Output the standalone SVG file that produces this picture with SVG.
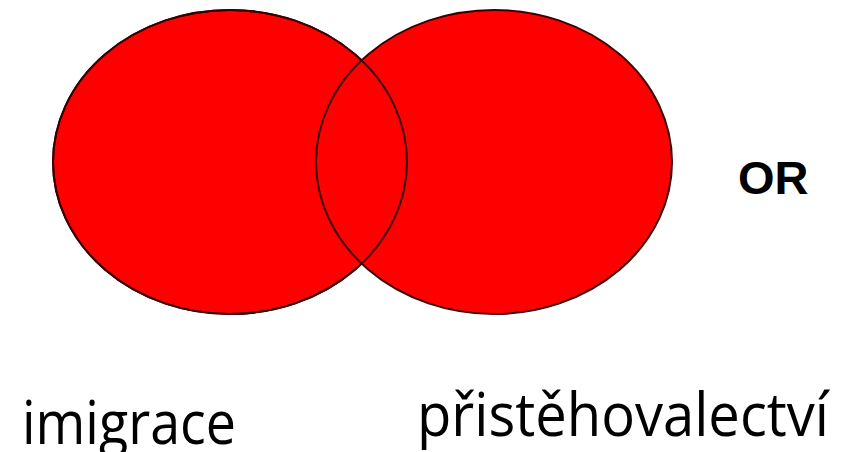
<svg xmlns="http://www.w3.org/2000/svg" width="844" height="452" viewBox="0 0 844 452">
<style>
.c{fill:#ff0000;stroke:#3a0000;stroke-width:2}
.o{fill:none;stroke:#3a0000;stroke-width:2}
.lbl{font-family:"Open Sans","Noto Sans",sans-serif;font-size:60px;fill:#000}
.or{font-family:"Liberation Sans",Arial,sans-serif;font-weight:bold;font-size:47px;fill:#000}
</style>
<rect width="844" height="452" fill="#fff"/>
<g id="set-left"><ellipse class="c" cx="230" cy="162" rx="177" ry="152"/></g>
<g id="set-right"><ellipse class="c" cx="494" cy="162" rx="178" ry="152"/></g>
<g id="outlines"><ellipse class="o" cx="230" cy="162" rx="177" ry="152"/></g>
<g id="op"><text class="or" x="738" y="194">OR</text></g>
<g id="label-left"><text class="lbl" x="22" y="444" textLength="214" lengthAdjust="spacingAndGlyphs">imigrace</text></g>
<g id="label-right"><text class="lbl" x="417" y="436" textLength="412" lengthAdjust="spacingAndGlyphs">přistěhovalectví</text></g>
</svg>
